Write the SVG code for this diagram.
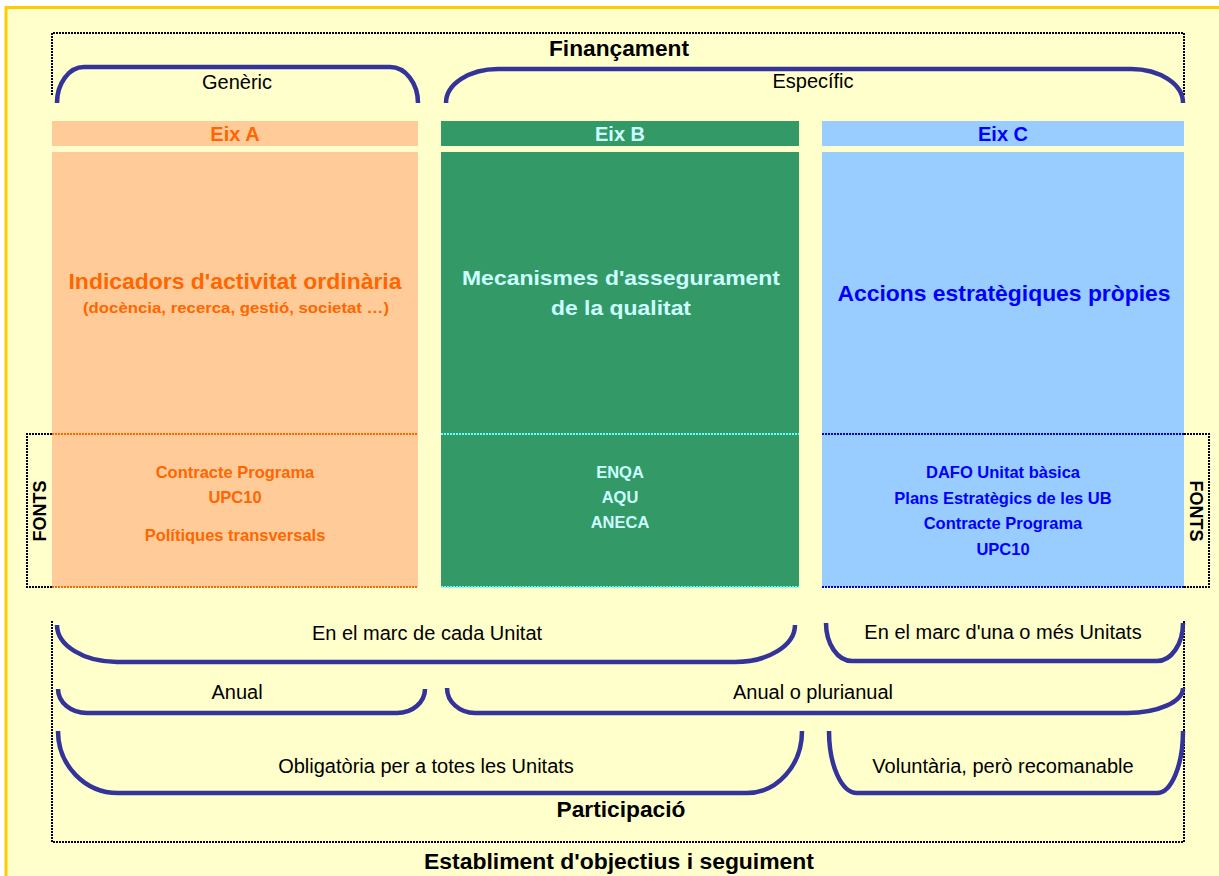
<svg xmlns="http://www.w3.org/2000/svg" width="1219" height="876" viewBox="0 0 1219 876">
<style>
text{font-family:"Liberation Sans",Arial,Helvetica,sans-serif;text-anchor:middle}
.b{font-weight:bold}
.lbl{font-size:20px;fill:#000}
.brk{fill:none;stroke:#333399;stroke-width:4.5;stroke-linecap:butt}
.dot{fill:none;stroke:#000;stroke-width:2;stroke-dasharray:2 1;shape-rendering:crispEdges}
.sep{fill:none;stroke-width:2;stroke-dasharray:2 1;shape-rendering:crispEdges}
.sub{font-size:16.5px;font-weight:bold}
.ta{fill:#FF6600}
.tb{fill:#CCFFFF}
.tc{fill:#0000FF}
</style>
<rect x="0" y="0" width="1219" height="876" fill="#FFFFFF"/>
<rect x="6" y="7.5" width="1230" height="890" fill="#FFFFCC" stroke="#FFCC00" stroke-width="3"/>

<g id="financament">
<path class="dot" d="M52,95 L52,33 L1184,33 L1184,95"/>
<text class="lbl b" x="619" y="56" textLength="140" lengthAdjust="spacingAndGlyphs" style="font-size:22px">Finançament</text>
</g>

<g id="participacio">
<path class="dot" d="M52,621 L52,842 L1184,842 L1184,621"/>
<text class="lbl b" x="621" y="817" textLength="129" lengthAdjust="spacingAndGlyphs" style="font-size:22px">Participació</text>
</g>

<text id="establiment" class="lbl b" x="619" y="869" textLength="390" lengthAdjust="spacingAndGlyphs" style="font-size:22px">Establiment d'objectius i seguiment</text>

<g id="fonts-left">
<path class="dot" d="M52,434 L27,434 L27,587 L52,587"/>
<text class="b" x="0" y="0" transform="translate(46,511) rotate(-90)" textLength="61" lengthAdjust="spacingAndGlyphs" style="font-size:18px;fill:#000">FONTS</text>
</g>
<g id="fonts-right">
<path class="dot" d="M1184,434 L1209,434 L1209,587 L1184,587"/>
<text class="b" x="0" y="0" transform="translate(1190,511) rotate(90)" textLength="61" lengthAdjust="spacingAndGlyphs" style="font-size:18px;fill:#000">FONTS</text>
</g>

<g id="eix-a">
<rect x="52" y="121" width="366" height="25" fill="#FFCC99"/>
<text class="b ta" x="235" y="141" style="font-size:20px">Eix A</text>
<rect x="52" y="152" width="366" height="435" fill="#FFCC99"/>
<path class="sep" d="M52,434 L418,434 M52,587 L418,587" stroke="#FF6600"/>
<text class="b ta" x="235" y="289" textLength="333" lengthAdjust="spacingAndGlyphs" style="font-size:22px">Indicadors d'activitat ordinària</text>
<text class="b ta" x="236" y="313" textLength="306" lengthAdjust="spacingAndGlyphs" style="font-size:15px">(docència, recerca, gestió, societat …)</text>
<text class="sub ta" x="235" y="478">Contracte Programa</text>
<text class="sub ta" x="235" y="503">UPC10</text>
<text class="sub ta" x="235" y="541">Polítiques transversals</text>
</g>

<g id="eix-b">
<rect x="441" y="121" width="358" height="25" fill="#339966"/>
<text class="b tb" x="620" y="141" style="font-size:20px">Eix B</text>
<rect x="441" y="152" width="358" height="435" fill="#339966"/>
<path class="sep" d="M441,434 L799,434 M441,587 L799,587" stroke="#66FFFF"/>
<text class="b tb" x="621" y="285" textLength="318" lengthAdjust="spacingAndGlyphs" style="font-size:21px">Mecanismes d'assegurament</text>
<text class="b tb" x="621" y="315" textLength="140" lengthAdjust="spacingAndGlyphs" style="font-size:21px">de la qualitat</text>
<text class="sub tb" x="620" y="478">ENQA</text>
<text class="sub tb" x="620" y="503">AQU</text>
<text class="sub tb" x="620" y="528">ANECA</text>
</g>

<g id="eix-c">
<rect x="822" y="121" width="362" height="25" fill="#99CCFF"/>
<text class="b tc" x="1003" y="141" style="font-size:20px">Eix C</text>
<rect x="822" y="152" width="362" height="435" fill="#99CCFF"/>
<path class="sep" d="M822,434 L1184,434 M822,587 L1184,587" stroke="#0000CC"/>
<text class="b tc" x="1004" y="301" textLength="333" lengthAdjust="spacingAndGlyphs" style="font-size:22px">Accions estratègiques pròpies</text>
<text class="sub tc" x="1003" y="478">DAFO Unitat bàsica</text>
<text class="sub tc" x="1003" y="504">Plans Estratègics de les UB</text>
<text class="sub tc" x="1003" y="529">Contracte Programa</text>
<text class="sub tc" x="1003" y="555">UPC10</text>
</g>

<g id="connectors">
<path class="brk" d="M57,103 A27,36 0 0 1 84,67 L390,67 A28,36 0 0 1 418,103"/>
<path class="brk" d="M446,103 A52,34 0 0 1 498,69 L1131,69 A52,34 0 0 1 1183,103"/>
<path class="brk" d="M57,625 A60,37 0 0 0 117,662 L735,662 A60,37 0 0 0 795,625"/>
<path class="brk" d="M826,623 A26,38 0 0 0 852,661 L1157,661 A26,38 0 0 0 1183,623"/>
<path class="brk" d="M58,689 A29,24 0 0 0 87,713 L397,713 A28,24 0 0 0 425,689"/>
<path class="brk" d="M447,688 A28,25 0 0 0 475,713 L1127,713 A56,25 0 0 0 1183,688"/>
<path class="brk" d="M58,731 A60,62 0 0 0 118,793 L747,793 A55,62 0 0 0 802,731"/>
<path class="brk" d="M829,731 A28,62 0 0 0 857,793 L1157,793 A26,62 0 0 0 1183,731"/>
</g>

<g id="labels">
<text class="lbl" x="237" y="89">Genèric</text>
<text class="lbl" x="813" y="88">Específic</text>
<text class="lbl" x="427" y="640">En el marc de cada Unitat</text>
<text class="lbl" x="1003" y="639">En el marc d'una o més Unitats</text>
<text class="lbl" x="237" y="699">Anual</text>
<text class="lbl" x="813" y="699">Anual o plurianual</text>
<text class="lbl" x="426" y="773">Obligatòria per a totes les Unitats</text>
<text class="lbl" x="1003" y="773">Voluntària, però recomanable</text>
</g>
</svg>
